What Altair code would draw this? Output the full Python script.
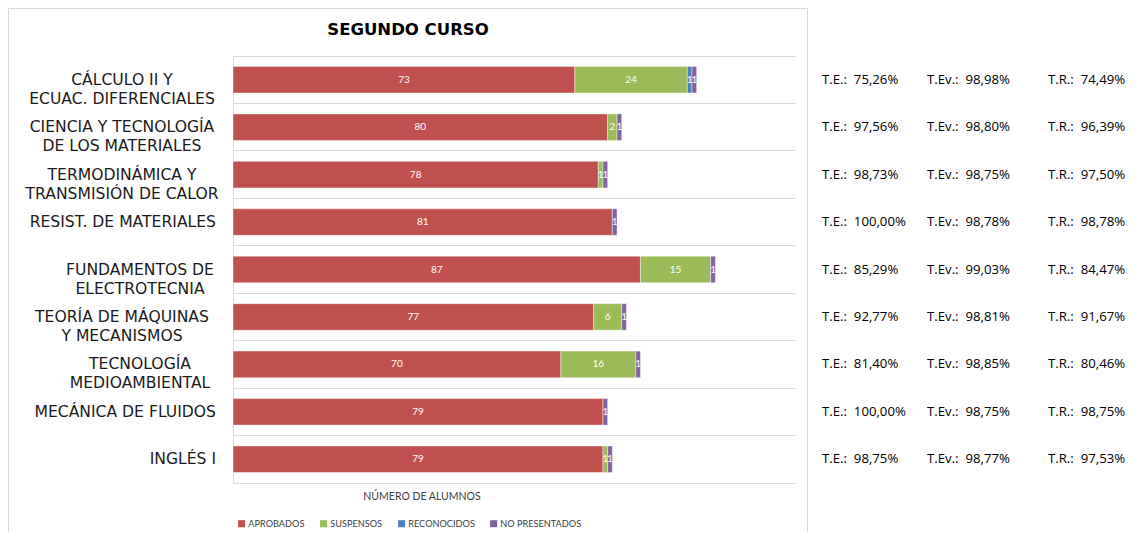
import altair as alt
import pandas as pd

asignaturas = [
    "CÁLCULO II Y|ECUAC. DIFERENCIALES",
    "CIENCIA Y TECNOLOGÍA|DE LOS MATERIALES",
    "TERMODINÁMICA Y|TRANSMISIÓN DE CALOR",
    "RESIST. DE MATERIALES",
    "FUNDAMENTOS DE|ELECTROTECNIA",
    "TEORÍA DE MÁQUINAS|Y MECANISMOS",
    "TECNOLOGÍA|MEDIOAMBIENTAL",
    "MECÁNICA DE FLUIDOS",
    "INGLÉS I",
]
categorias = ["APROBADOS", "SUSPENSOS", "RECONOCIDOS", "NO PRESENTADOS"]
colores = ["#C0504D", "#9BBB59", "#4F81BD", "#8064A2"]
aprobados = [73, 80, 78, 81, 87, 77, 70, 79, 79]
suspensos = [24, 2, 1, 0, 15, 6, 16, 0, 1]
reconocidos = [1, 0, 0, 0, 0, 0, 0, 0, 0]
no_presentados = [1, 1, 1, 1, 1, 1, 1, 1, 1]
tasa_exito = ["75,26%", "97,56%", "98,73%", "100,00%", "85,29%", "92,77%", "81,40%", "100,00%", "98,75%"]
tasa_evaluacion = ["98,98%", "98,80%", "98,75%", "98,78%", "99,03%", "98,81%", "98,85%", "98,75%", "98,77%"]
tasa_rendimiento = ["74,49%", "96,39%", "97,50%", "98,78%", "84,47%", "91,67%", "80,46%", "98,75%", "97,53%"]

series = [aprobados, suspensos, reconocidos, no_presentados]
rows = []
for i, a in enumerate(asignaturas):
    for k, (cat, vals) in enumerate(zip(categorias, series)):
        if vals[i] > 0:
            rows.append({"asignatura": a, "categoria": cat, "valor": vals[i], "orden": k})
df = pd.DataFrame(rows)
df_tasas = pd.DataFrame({
    "asignatura": asignaturas,
    "te": tasa_exito,
    "tev": tasa_evaluacion,
    "tr": tasa_rendimiento,
})

FONT = "Lato"
FONT2 = "Open Sans"
FONT3 = "DejaVu Sans"
GRID = "#d9d9d9"

y_enc = alt.Y(
    "asignatura:N",
    sort=asignaturas,
    scale=alt.Scale(paddingInner=0, paddingOuter=0),
    axis=alt.Axis(labels=False, ticks=False, title=None, domain=True, domainColor=GRID,
                  grid=True, gridColor=GRID, gridWidth=1, bandPosition=0),
)
x_scale = alt.Scale(domain=[0, 120], nice=False, zero=True)

stacked = alt.Chart(df).transform_stack(
    stack="valor", groupby=["asignatura"], as_=["x0", "x1"],
    sort=[alt.SortField("orden", order="ascending")],
).transform_calculate(mid="(datum.x0 + datum.x1) / 2")

bars = stacked.mark_bar(height=alt.RelativeBandSize(0.56), stroke="white",
                        strokeWidth=0.6, strokeOpacity=0.7).encode(
    y=y_enc,
    x=alt.X("x0:Q", scale=x_scale,
            axis=alt.Axis(labels=False, ticks=False, grid=False, title=None,
                          domain=True, domainColor=GRID)),
    x2="x1:Q",
    color=alt.Color("categoria:N", scale=alt.Scale(domain=categorias, range=colores),
                    legend=alt.Legend(orient="none", legendX=4, legendY=463,
                                      direction="horizontal", columns=4, title=None,
                                      symbolType="square", symbolSize=50,
                                      labelFontSize=9.2, labelFont=FONT, labelColor="#404040",
                                      columnPadding=14, symbolStrokeWidth=0, labelOffset=2)),
)

bar_labels = stacked.mark_text(color="white", fontSize=10, font=FONT,
                               align="center", baseline="middle").encode(
    y=alt.Y("asignatura:N", sort=asignaturas),
    x=alt.X("mid:Q", scale=x_scale),
    text="valor:Q",
)

def etiquetas(nombres, x, align):
    return alt.Chart(pd.DataFrame({"asignatura": asignaturas})).transform_filter(
        alt.FieldOneOfPredicate(field="asignatura", oneOf=nombres)
    ).mark_text(align=align, baseline="middle", lineBreak="|", fontSize=15.6,
                lineHeight=19, font=FONT3, color="#1a1a1a").encode(
        y=alt.Y("asignatura:N", sort=asignaturas),
        x=alt.value(x),
        text="asignatura:N",
    )

lab_a = etiquetas([asignaturas[i] for i in (0, 1, 2, 5)], -111, "center")
lab_b = etiquetas([asignaturas[i] for i in (4, 6)], -93, "center")
lab_c = etiquetas([asignaturas[i] for i in (3, 7, 8)], -17, "right")

tasas_base = alt.Chart(df_tasas).transform_calculate(
    t1="'T.E.:\u00a0\u00a0' + datum.te",
    t2="'T.Ev.:\u00a0\u00a0' + datum.tev",
    t3="'T.R.:\u00a0\u00a0' + datum.tr",
)
def tasa(campo, x):
    return tasas_base.mark_text(align="left", baseline="middle", fontSize=13.2,
                                font=FONT2, color="#000000").encode(
        y=alt.Y("asignatura:N", sort=asignaturas),
        x=alt.value(x),
        text=f"{campo}:N",
    )

marco = alt.Chart(pd.DataFrame({"k": [0]})).mark_rect(
    fillOpacity=0, stroke=GRID, strokeWidth=1
).encode(x=alt.value(-224.5), x2=alt.value(574.5), y=alt.value(-47.5), y2=alt.value(500))

titulo = alt.Chart(pd.DataFrame({"t": ["SEGUNDO CURSO"]})).mark_text(
    fontSize=16.5, fontWeight="bold", font=FONT3, color="#000000", align="center", baseline="middle"
).encode(x=alt.value(175), y=alt.value(-26), text="t:N")

titulo_x = alt.Chart(pd.DataFrame({"t": ["NÚMERO DE ALUMNOS"]})).mark_text(
    fontSize=10.5, font=FONT, color="#404040", align="center", baseline="middle"
).encode(x=alt.value(189), y=alt.value(441), text="t:N")

chart = alt.layer(
    marco, bars, bar_labels, lab_a, lab_b, lab_c,
    tasa("t1", 589), tasa("t2", 694), tasa("t3", 815),
    titulo, titulo_x,
).properties(
    width=562, height=427,
    padding={"left": 225, "top": 48, "right": 345, "bottom": 49},
    autosize=alt.AutoSizeParams(type="none"),
    background="white",
).configure_view(stroke=None)

chart.save("out.html", embed_options={"renderer": "svg", "actions": False})
